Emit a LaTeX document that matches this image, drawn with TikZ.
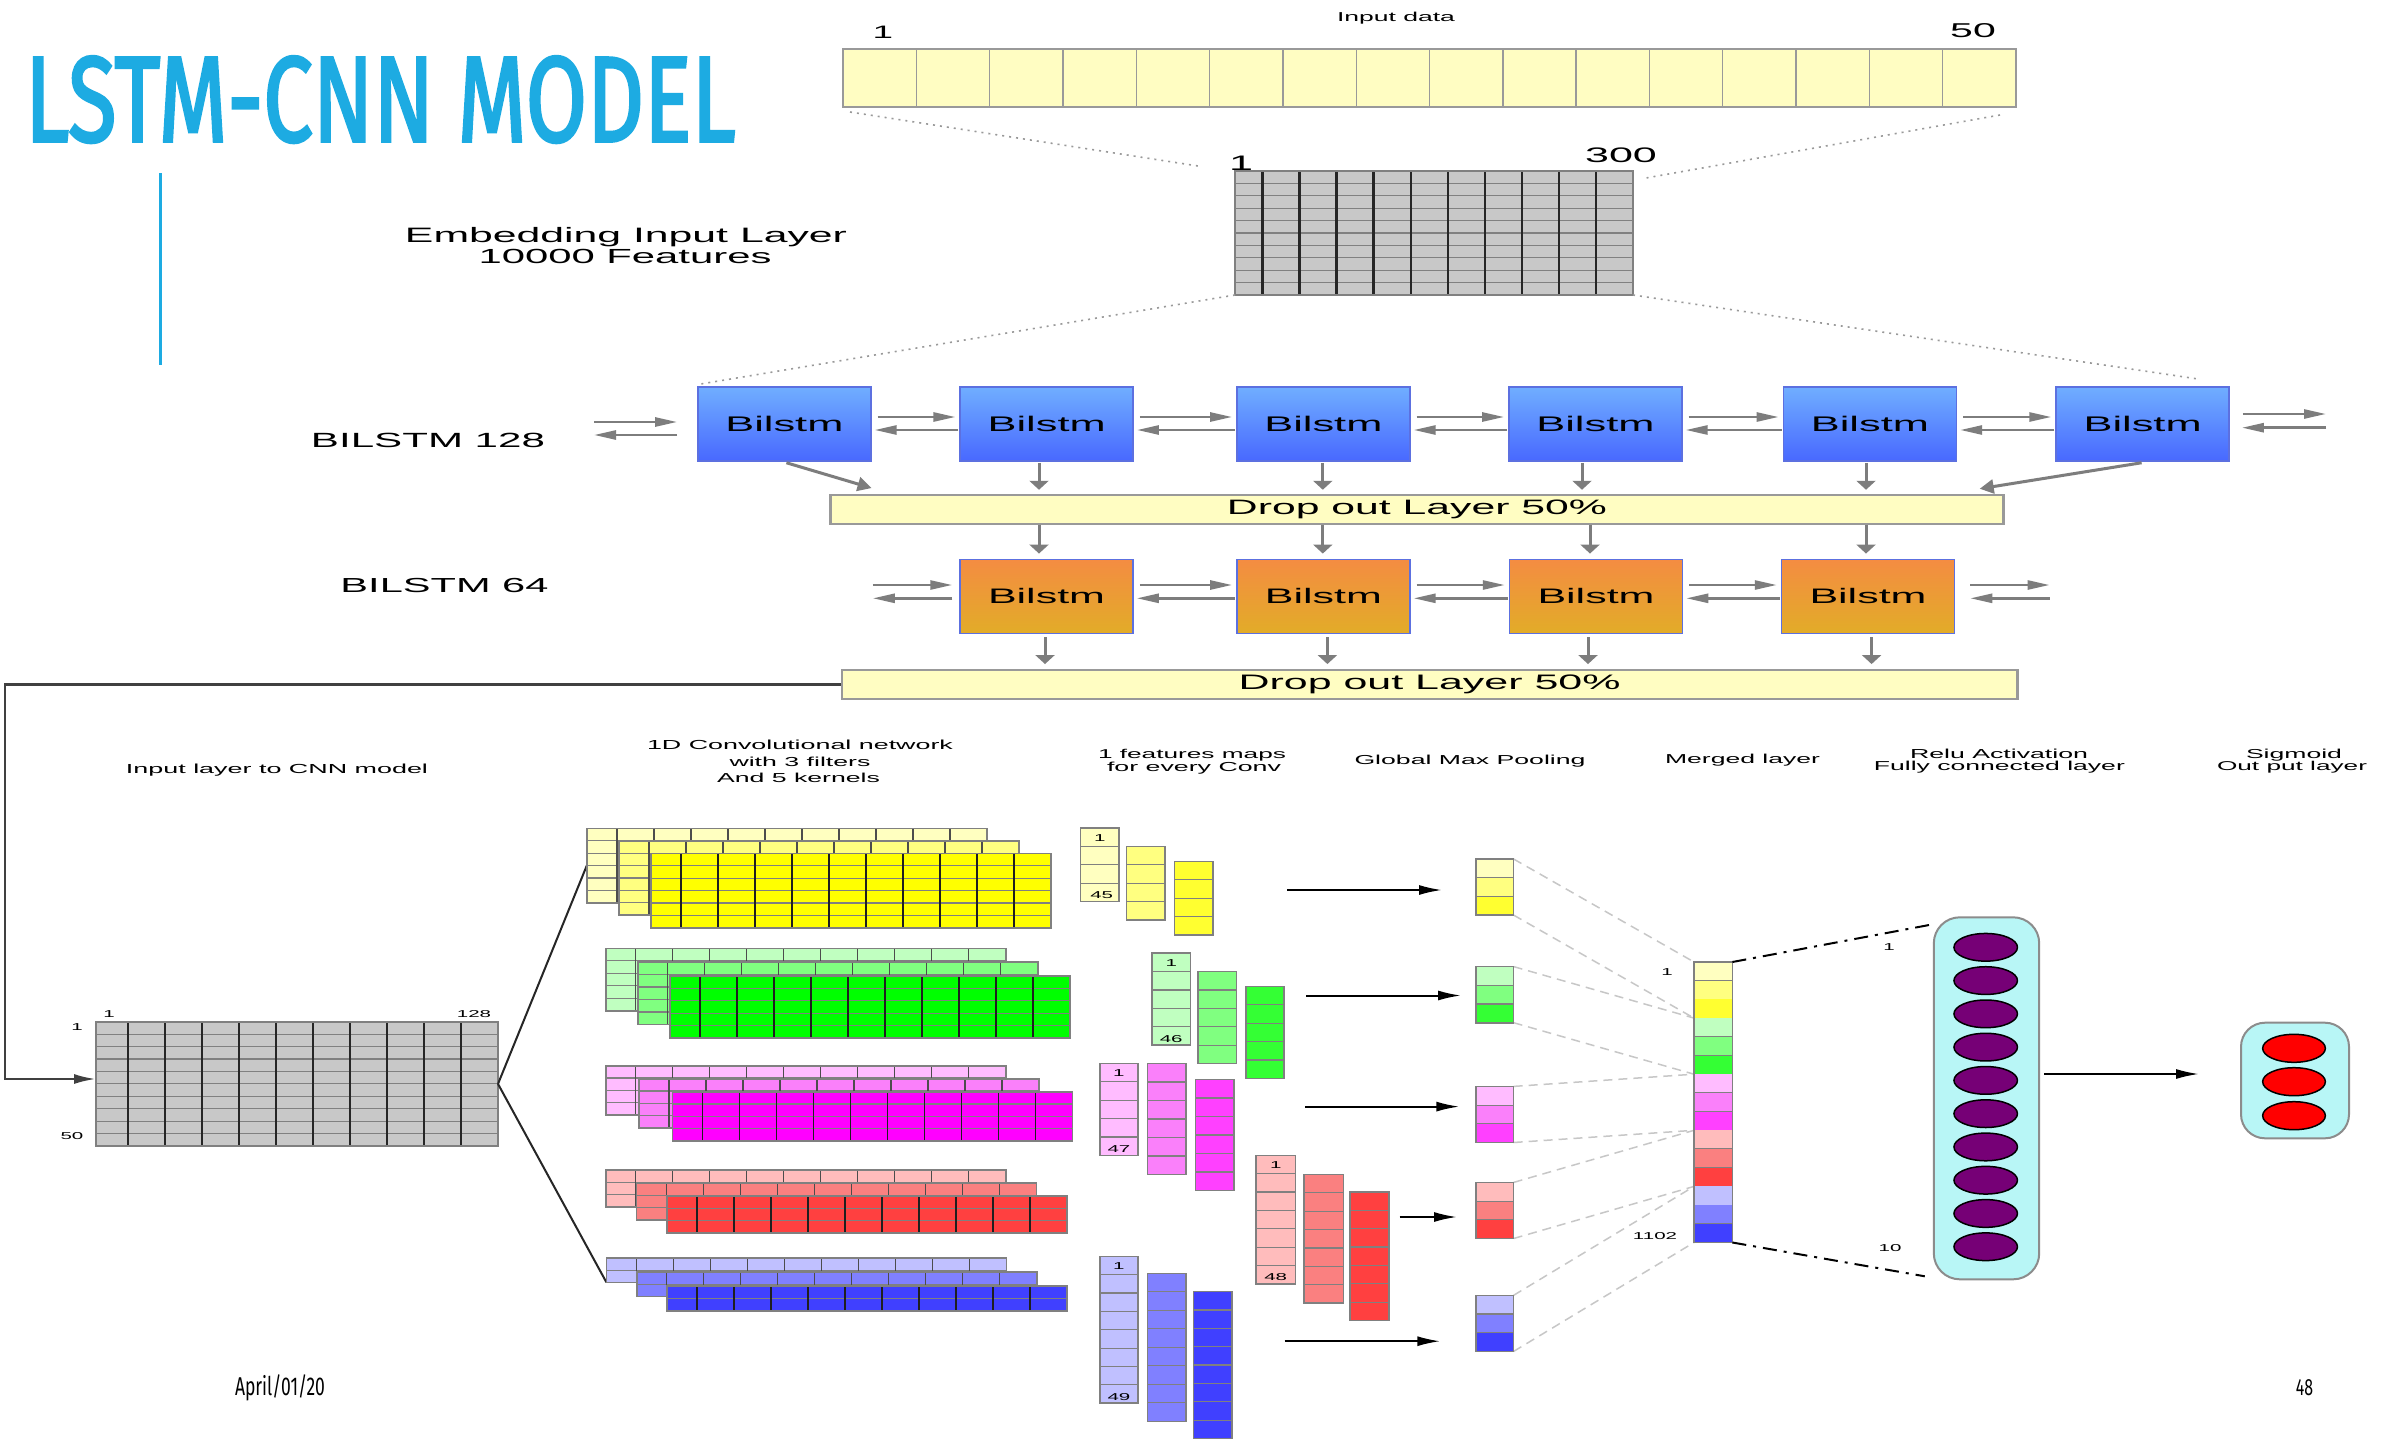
\documentclass[tikz,border=0pt]{standalone}
\usepackage{fontspec}
\usepackage{graphicx}
\usetikzlibrary{arrows.meta,calc,shapes.geometric}

% diagram lettering: wide sans; slide lettering: narrow sans
\newfontfamily\dfont[FakeStretch=2.05]{Liberation Sans}
\newfontfamily\slidefont[FakeStretch=0.68]{Fira Sans}
\newfontfamily\titlefont[FakeBold=2.5]{Fira Sans}

\definecolor{titleblue}{RGB}{29,171,226}
\definecolor{paleyel}{RGB}{255,253,194}
\definecolor{gridgray}{RGB}{200,200,200}
\definecolor{arrowgray}{RGB}{125,125,125}
\definecolor{lstmtop}{RGB}{112,174,255}
\definecolor{lstmbot}{RGB}{72,104,255}
\definecolor{lstmedge}{RGB}{92,112,224}
\definecolor{orgtop}{RGB}{244,140,66}
\definecolor{orgbot}{RGB}{226,172,40}
\definecolor{cyanfill}{RGB}{184,246,246}
\definecolor{purp}{RGB}{118,0,118}
% three shades per filter colour, plus the strong front shade
\definecolor{yA}{RGB}{255,255,192}\definecolor{yB}{RGB}{255,255,128}\definecolor{yC}{RGB}{255,255,48}\definecolor{yF}{RGB}{255,255,0}
\definecolor{gA}{RGB}{192,255,192}\definecolor{gB}{RGB}{128,255,128}\definecolor{gC}{RGB}{52,255,52}\definecolor{gF}{RGB}{0,255,0}
\definecolor{mA}{RGB}{255,188,255}\definecolor{mB}{RGB}{250,128,250}\definecolor{mC}{RGB}{255,64,255}\definecolor{mF}{RGB}{255,0,255}
\definecolor{rA}{RGB}{255,188,188}\definecolor{rB}{RGB}{250,128,128}\definecolor{rC}{RGB}{255,64,64}\definecolor{rF}{RGB}{255,64,64}
\definecolor{bA}{RGB}{192,192,255}\definecolor{bB}{RGB}{128,128,255}\definecolor{bC}{RGB}{64,64,255}\definecolor{bF}{RGB}{64,64,255}

% text set to a given width
\newcommand\wlabel[2]{\resizebox{#1pt}{!}{\dfont #2}}
% small numbers at a given size
\newcommand\dnum[2]{{\dfont\fontsize{#1pt}{#1pt}\selectfont #2}}

% x0, y0, first column width, column width, columns, row height, rows, fill, vertical rule style
\newcommand\cellgrid[9]{%
  \pgfmathsetmacro\cgR{#1+#3+(#5-1)*#4}%
  \pgfmathsetmacro\cgB{#2+#7*#6}%
  \pgfmathtruncatemacro\cgN{#5-1}%
  \fill[#8] (#1,#2) rectangle (\cgR,\cgB);
  \foreach \k in {1,...,#7}{\draw[hrule] (#1,#2+\k*#6) -- (\cgR,#2+\k*#6);}
  \foreach \k in {1,...,\cgN}{\draw[#9] (#1+#3+\k*#4-#4,#2) -- (#1+#3+\k*#4-#4,\cgB);}
  \draw[cellframe] (#1,#2) rectangle (\cgR,\cgB);
}
% x0, y0, width, cell height, cells, fill
\newcommand\colstack[6]{%
  \pgfmathsetmacro\csB{#2+#5*#4}%
  \fill[#6] (#1,#2) rectangle (#1+#3,\csB);
  \foreach \k in {1,...,#5}{\draw[hrule] (#1,#2+\k*#4) -- (#1+#3,#2+\k*#4);}
  \draw[cellframe] (#1,#2) rectangle (#1+#3,\csB);
}
% three stacked filter sheets: x, y, dx, dy, rows, row height, colour prefix
\newcommand\convblock[7]{%
  \cellgrid{#1}{#2}{30}{37}{11}{#6}{#5}{#7A}{vback}
  \cellgrid{#1+#3}{#2+#4}{30}{37}{11}{#6}{#5}{#7B}{vback}
  \cellgrid{#1+2*#3}{#2+2*#4}{30}{37}{11}{#6}{#5}{#7F}{vfront}
}
% pooled vector of three cells: x, y, colour prefix
\newcommand\poolcells[3]{%
  \fill[#3A] (#1,#2) rectangle (#1+37.6,#2+18.7);
  \fill[#3B] (#1,#2+18.7) rectangle (#1+37.6,#2+37.4);
  \fill[#3C] (#1,#2+37.4) rectangle (#1+37.6,#2+56.1);
  \draw[hrule] (#1,#2+18.7) -- (#1+37.6,#2+18.7) (#1,#2+37.4) -- (#1+37.6,#2+37.4);
  \draw[cellframe] (#1,#2) rectangle (#1+37.6,#2+56.1);
}

\tikzset{
  holder/.style={draw=none, inner sep=0pt, outer sep=0pt},
  txt/.style={inner sep=0pt, outer sep=0pt, anchor=base},
  tag/.style={inner sep=0pt, outer sep=0pt},
  hrule/.style={draw=black!50, line width=1.2pt},
  vback/.style={draw=black!70, line width=1.4pt},
  vfront/.style={draw=black!88, line width=1.9pt},
  vgrid/.style={draw=black!85, line width=2.2pt},
  vbar/.style={draw=black!40, line width=1.4pt},
  cellframe/.style={draw=black!50, line width=1.6pt},
  lstmbox/.style={draw=lstmedge, line width=1.5pt, top color=lstmtop, bottom color=lstmbot,
    minimum width=173pt, minimum height=74pt, inner sep=0pt},
  orgbox/.style={lstmbox, top color=orgtop, bottom color=orgbot},
  dropbox/.style={draw=black!40, line width=2.5pt, fill=paleyel, minimum height=29pt, inner sep=0pt},
  hgo/.style={draw=arrowgray, line width=2.6pt, -{Triangle[length=22pt,width=9pt]}},
  vgo/.style={draw=arrowgray, line width=3pt, -{Triangle[length=9pt,width=19pt]}},
  dgo/.style={draw=arrowgray, line width=3pt, -{Triangle[length=14pt,width=14pt]}},
  kgo/.style={draw=black, line width=2pt, -{Latex[length=23pt,width=10pt]}},
  feed/.style={draw=black!75, line width=2.5pt, -{Latex[length=22pt,width=10pt]}},
  fanline/.style={draw=black!85, line width=2pt},
  dotlink/.style={draw=black!40, line width=1.6pt, dash pattern=on 2pt off 5pt},
  dashlink/.style={draw=black!22, line width=1.5pt, dash pattern=on 9pt off 6pt},
  dashdot/.style={draw=black, line width=2pt, dash pattern=on 14pt off 7pt on 3pt off 7pt},
  neuron/.style={ellipse, draw=black, line width=1.5pt, inner sep=0pt, minimum width=63.5pt, minimum height=27.7pt},
  layerbox/.style={draw=black!45, line width=2pt, fill=cyanfill, inner sep=0pt}
}

\begin{document}
\begin{tikzpicture}[x=1pt, y=-1pt]
\useasboundingbox (0,0) rectangle (2399,1440);
\fill[white] (0,0) rectangle (2399,1440);

% ---------- slide title and rule ----------
\node[anchor=south west, inner sep=0pt] (title) at (25,143)
  {\color{titleblue}\resizebox{710pt}{85pt}{\titlefont LSTM-CNN MODEL}};
\draw[titleblue, line width=3pt] (160,173) -- (160,365);

% ---------- input sequence ----------
\node[holder, minimum width=1173pt, minimum height=58pt] (inbar) at (1429.5,78) {};
\cellgrid{843}{49}{73.3125}{73.3125}{16}{58}{1}{paleyel}{vbar}
\draw[draw=black!40, line width=2.5pt] (843,49) rectangle (2016,107);
\node[txt] (tInput) at (1396,21) {\wlabel{118}{Input data}};
\node[txt] (tIn1) at (883,38) {\dnum{18}{1}};
\node[txt] (tIn50) at (1973,37) {\dnum{20}{50}};

% ---------- embedding matrix ----------
\node[holder, minimum width=398pt, minimum height=124pt] (emb) at (1434,233) {};
\cellgrid{1235}{171}{27.4}{37.06}{11}{12.4}{10}{gridgray}{vgrid}
\node[txt] (tEmb1) at (1241,170) {\dnum{21}{1}};
\node[txt] (tEmb300) at (1621,162) {\dnum{21}{300}};
\node[txt] (tEmbA) at (626,242) {\wlabel{442}{Embedding Input Layer}};
\node[txt] (tEmbB) at (625,263) {\wlabel{293}{10000 Features}};

\draw[dotlink] ($(inbar.south west)+(7,5)$) -- ($(emb.north west)+(-37,-5)$);
\draw[dotlink] ($(inbar.south east)+(-16,8)$) -- ($(emb.north east)+(13,7)$);

% ---------- first BiLSTM layer ----------
\node[txt] (tB128) at (428,447.7) {\wlabel{234}{BILSTM 128}};
\node[lstmbox] (l1) at (784.4,424) {\wlabel{118}{Bilstm}};
\node[lstmbox] (l2) at (1046.7,424) {\wlabel{118}{Bilstm}};
\node[lstmbox] (l3) at (1323.4,424) {\wlabel{118}{Bilstm}};
\node[lstmbox] (l4) at (1595.4,424) {\wlabel{118}{Bilstm}};
\node[lstmbox] (l5) at (1869.9,424) {\wlabel{118}{Bilstm}};
\node[lstmbox] (l6) at (2142.6,424) {\wlabel{118}{Bilstm}};

\draw[dotlink] (emb.south west) -- ($(l1.north west)+(2,-2)$);
\draw[dotlink] (emb.south east) -- ($(l6.north east)+(-30,-7)$);

\coordinate (fwdIn) at (594,422);
\coordinate (bwdOut) at (594,435);
\draw[hgo] (fwdIn) -- ($(l1.west)+(-20,-2)$);
\draw[hgo] ($(l1.west)+(-20,11)$) -- (bwdOut);
\foreach \a/\b in {l1/l2,l2/l3,l3/l4,l4/l5,l5/l6}{
  \draw[hgo] ($(\a.east)+(6,-7)$) -- ($(\b.west)+(-4,-7)$);
  \draw[hgo] ($(\b.west)+(-1,6)$) -- ($(\a.east)+(3,6)$);
}
\coordinate (fwdOut) at (2326,414);
\coordinate (bwdIn) at (2326,427.7);
\draw[hgo] ($(l6.east)+(13,-10)$) -- (fwdOut);
\draw[hgo] (bwdIn) -- ($(l6.east)+(12,3.7)$);

% ---------- first dropout ----------
\node[dropbox, minimum width=1173.3pt] (drop1) at (1417,509.5) {\wlabel{380}{Drop out Layer 50\%}};
\draw[dgo] ($(l1.south)+(2,1)$) -- ($(drop1.north west)+(42.5,-5.7)$);
\draw[vgo] ([xshift=-7.7pt]l2.south) ++(0,1) -- ++(0,27);
\draw[vgo] ([xshift=-0.6pt]l3.south) ++(0,1) -- ++(0,27);
\draw[vgo] ([xshift=-13.4pt]l4.south) ++(0,1) -- ++(0,27);
\draw[vgo] ([xshift=-3.9pt]l5.south) ++(0,1) -- ++(0,27);
\draw[dgo] ($(l6.south)+(-1,1)$) -- ($(drop1.north east)+(-25.2,-5)$);

% ---------- second BiLSTM layer ----------
\node[txt] (tB64) at (444.5,592.7) {\wlabel{208}{BILSTM 64}};
\node[orgbox] (m1) at (1046.5,596.3) {\wlabel{117}{Bilstm}};
\node[orgbox] (m2) at (1323.4,596.3) {\wlabel{117}{Bilstm}};
\node[orgbox] (m3) at (1596,596.3) {\wlabel{117}{Bilstm}};
\node[orgbox] (m4) at (1868,596.3) {\wlabel{117}{Bilstm}};

\draw[vgo] ([xshift=-7.5pt]m1.north) ++(0,-34) -- ++(0,29);
\draw[vgo] ([xshift=-0.6pt]m2.north) ++(0,-34) -- ++(0,29);
\draw[vgo] ([xshift=-6pt]m3.north) ++(0,-34) -- ++(0,29);
\draw[vgo] ([xshift=-2pt]m4.north) ++(0,-34) -- ++(0,29);

\coordinate (fwdIn2) at (872.8,585);
\coordinate (bwdOut2) at (872.8,598.3);
\draw[hgo] (fwdIn2) -- ($(m1.west)+(-7,-11.3)$);
\draw[hgo] ($(m1.west)+(-7,2)$) -- (bwdOut2);
\foreach \a/\b in {m1/m2,m2/m3,m3/m4}{
  \draw[hgo] ($(\a.east)+(6,-11.3)$) -- ($(\b.west)+(-4,-11.3)$);
  \draw[hgo] ($(\b.west)+(-1,2)$) -- ($(\a.east)+(3,2)$);
}
\coordinate (fwdOut2) at (2049.6,585);
\coordinate (bwdIn2) at (2049.6,598.3);
\draw[hgo] ($(m4.east)+(15,-11.3)$) -- (fwdOut2);
\draw[hgo] (bwdIn2) -- ($(m4.east)+(15,2)$);

% ---------- second dropout ----------
\node[dropbox, minimum width=1175.6pt] (drop2) at (1429.6,684.5) {\wlabel{382}{Drop out Layer 50\%}};
\draw[vgo] ([xshift=-1.5pt]m1.south) ++(0,3) -- ++(0,27);
\draw[vgo] ([xshift=4pt]m2.south) ++(0,3) -- ++(0,27);
\draw[vgo] ([xshift=-8pt]m3.south) ++(0,3) -- ++(0,27);
\draw[vgo] ([xshift=3.6pt]m4.south) ++(0,3) -- ++(0,27);

% ---------- column captions ----------
\node[txt] (tCnnIn) at (277,773) {\wlabel{302}{Input layer to CNN model}};
\node[txt] (tConvA) at (800,749) {\wlabel{306}{1D Convolutional network}};
\node[txt] (tConvB) at (800,766) {\wlabel{141}{with 3 filters}};
\node[txt] (tConvC) at (798.5,782) {\wlabel{163}{And 5 kernels}};
\node[txt] (tMapA) at (1192,758) {\wlabel{188}{1 features maps}};
\node[txt] (tMapB) at (1194,771) {\wlabel{174}{for every Conv}};
\node[txt] (tPool) at (1470,764) {\wlabel{231}{Global Max Pooling}};
\node[txt] (tMerge) at (1742.5,763) {\wlabel{155}{Merged layer}};
\node[txt] (tReluA) at (1999,758) {\wlabel{178}{Relu Activation}};
\node[txt] (tReluB) at (1999.4,770) {\wlabel{251}{Fully connected layer}};
\node[txt] (tSigA) at (2294,758) {\wlabel{96}{Sigmoid}};
\node[txt] (tSigB) at (2292,770) {\wlabel{150}{Out put layer}};

% ---------- CNN input matrix ----------
\node[holder, minimum width=402pt, minimum height=124.3pt] (cnn) at (297,1083.9) {};
\cellgrid{96}{1021.7}{31.6}{37.04}{11}{12.43}{10}{gridgray}{vgrid}
\node[tag] (tC1) at (109,1014) {\dnum{10}{1}};
\node[tag] (tC128) at (474,1014) {\dnum{10}{128}};
\node[tag] (tR1) at (77,1027) {\dnum{10}{1}};
\node[tag] (tR50) at (72,1136) {\dnum{10}{50}};

\coordinate (bend) at (5,1079);
\draw[feed] (drop2.west) -| (bend) -- (cnn.west |- bend);

% ---------- convolution filters ----------
\node[holder, anchor=north west, minimum width=400pt, minimum height=74.4pt] (ylwback) at (586.8,828.3) {};
\node[holder, anchor=north west, minimum width=400pt, minimum height=24.6pt] (bluback) at (606.4,1257.7) {};
\draw[fanline] (cnn.east) -- (ylwback.west);
\draw[fanline] (cnn.east) -- (bluback.south west);
\convblock{586.8}{828.3}{32.1}{12.5}{6}{12.4}{y}
\convblock{605.7}{948.3}{32}{13.7}{5}{12.5}{g}
\convblock{605.7}{1065.7}{33.4}{13}{4}{12.3}{m}
\convblock{605.7}{1170}{30.7}{12.9}{3}{12.3}{r}
\convblock{606.4}{1257.7}{30.3}{14.1}{2}{12.4}{b}

% ---------- feature maps ----------
\colstack{1080.6}{827.9}{38.3}{18.4}{4}{yA}
\colstack{1126.5}{846.3}{38.3}{18.4}{4}{yB}
\colstack{1174.4}{861.4}{38.3}{18.4}{4}{yC}
\node[tag] (fY1) at (1099.7,837.6) {\dnum{10}{1}};
\node[tag] (fY2) at (1101.7,895.5) {\dnum{10}{45}};

\colstack{1152}{953.2}{38.3}{18.4}{5}{gA}
\colstack{1198}{971.6}{38.3}{18.4}{5}{gB}
\colstack{1245.8}{986.3}{38.3}{18.4}{5}{gC}
\node[tag] (fG1) at (1171.2,963) {\dnum{10}{1}};
\node[tag] (fG2) at (1171.2,1039) {\dnum{10}{46}};

\colstack{1099.7}{1063.4}{38.3}{18.4}{5}{mA}
\colstack{1147.6}{1063.4}{38.3}{18.5}{6}{mB}
\colstack{1195.4}{1079.5}{38.3}{18.5}{6}{mC}
\node[tag] (fM1) at (1118.9,1073) {\dnum{10}{1}};
\node[tag] (fM2) at (1118.9,1149) {\dnum{10}{47}};

\colstack{1256}{1155.3}{39.5}{18.36}{7}{rA}
\colstack{1303.8}{1174.5}{39.5}{18.36}{7}{rB}
\colstack{1349.7}{1192}{39.5}{18.36}{7}{rC}
\node[tag] (fR1) at (1275.7,1165) {\dnum{10}{1}};
\node[tag] (fR2) at (1275.7,1277) {\dnum{10}{48}};

\colstack{1099.7}{1256.3}{38.3}{18.36}{8}{bA}
\colstack{1147.6}{1273.3}{38.3}{18.5}{8}{bB}
\colstack{1193.5}{1291.6}{38.3}{18.36}{8}{bC}
\node[tag] (fB1) at (1118.9,1266) {\dnum{10}{1}};
\node[tag] (fB2) at (1118.9,1397) {\dnum{10}{49}};

% ---------- global max pooling ----------
\node[holder, anchor=north west, minimum width=37.6pt, minimum height=56.1pt] (poolY) at (1476,859) {};
\node[holder, anchor=north west, minimum width=37.6pt, minimum height=56.1pt] (poolG) at (1476,966.6) {};
\node[holder, anchor=north west, minimum width=37.6pt, minimum height=56.1pt] (poolM) at (1476,1086.4) {};
\node[holder, anchor=north west, minimum width=37.6pt, minimum height=56.1pt] (poolR) at (1476,1182.4) {};
\node[holder, anchor=north west, minimum width=37.6pt, minimum height=56.1pt] (poolB) at (1476,1295.3) {};

\coordinate (kY0) at (1287,890);   \coordinate (kY1) at (1442,890);
\coordinate (kG0) at (1306,995.5); \coordinate (kG1) at (1461,995.5);
\coordinate (kM0) at (1305,1106.6);\coordinate (kM1) at (1459.4,1106.6);
\coordinate (kR0) at (1399.5,1217);\coordinate (kR1) at (1457,1217);
\coordinate (kB0) at (1284.7,1341.2);\coordinate (kB1) at (1440.3,1341.2);
\foreach \p in {Y,G,M,R,B}{\draw[kgo] (k\p0) -- (k\p1);}

% ---------- merged vector ----------
\node[holder, anchor=north west, minimum width=38.4pt, minimum height=280.5pt] (merged) at (1694,962) {};
\foreach \p/\i in {poolY/0,poolG/1,poolM/2,poolR/3,poolB/4}{
  \draw[dashlink] (\p.north east) -- ($(merged.north west)!{\i/5}!(merged.south west)$);
  \draw[dashlink] (\p.south east) -- ($(merged.north west)!{(\i+1)/5}!(merged.south west)$);
}
\poolcells{1476}{859}{y}
\poolcells{1476}{966.6}{g}
\poolcells{1476}{1086.4}{m}
\poolcells{1476}{1182.4}{r}
\poolcells{1476}{1295.3}{b}

\foreach \c [count=\i from 0] in {yA,yB,yC,gA,gB,gC,mA,mB,mC,rA,rB,rC,bA,bB,bC}{
  \fill[\c] (1694,962+\i*18.7) rectangle (1732.4,980.7+\i*18.7);
  \draw[hrule] (1694,980.7+\i*18.7) -- (1732.4,980.7+\i*18.7);
}
\draw[cellframe] (1694,962) rectangle (1732.4,1242.5);
\node[tag] (mg1) at (1667,972) {\dnum{10}{1}};
\node[tag] (mg2) at (1655,1236) {\dnum{10}{1102}};

% ---------- dense ReLU layer ----------
\node[layerbox, rounded corners=26pt, minimum width=105.4pt, minimum height=362pt] (fc) at (1986.5,1098.3) {};
\foreach \k in {0,...,9}{\node[neuron, fill=purp] (fc\k) at (1985.7,947.3+\k*33.27) {};}
\draw[dashdot] (merged.north east) -- ($(fc.north west)+(0,8)$);
\draw[dashdot] (merged.south east) -- ($(fc.south west)+(-8,-4)$);
\node[tag] (fcl1) at (1889,947) {\dnum{10}{1}};
\node[tag] (fcl2) at (1890,1248) {\dnum{10}{10}};

% ---------- sigmoid output ----------
\node[layerbox, rounded corners=24pt, minimum width=108pt, minimum height=115.6pt] (outbox) at (2295,1080.5) {};
\node[neuron, fill=red, minimum width=62.7pt, minimum height=28pt] (o1) at (2294,1048.3) {};
\node[neuron, fill=red, minimum width=62.7pt, minimum height=28pt] (o2) at (2294,1081.7) {};
\node[neuron, fill=red, minimum width=62.7pt, minimum height=28pt] (o3) at (2294,1115.7) {};
\draw[kgo] ($(fc.east)+(4,-24.3)$) -- ($(outbox.west)+(-41,-6.5)$);

% ---------- slide footer ----------
\node[txt] (date) at (280,1395) {\resizebox{90pt}{!}{\slidefont April/01/20}};
\node[txt] (page) at (2304.6,1395) {\resizebox{17.3pt}{!}{\slidefont 48}};
\end{tikzpicture}
\end{document}
